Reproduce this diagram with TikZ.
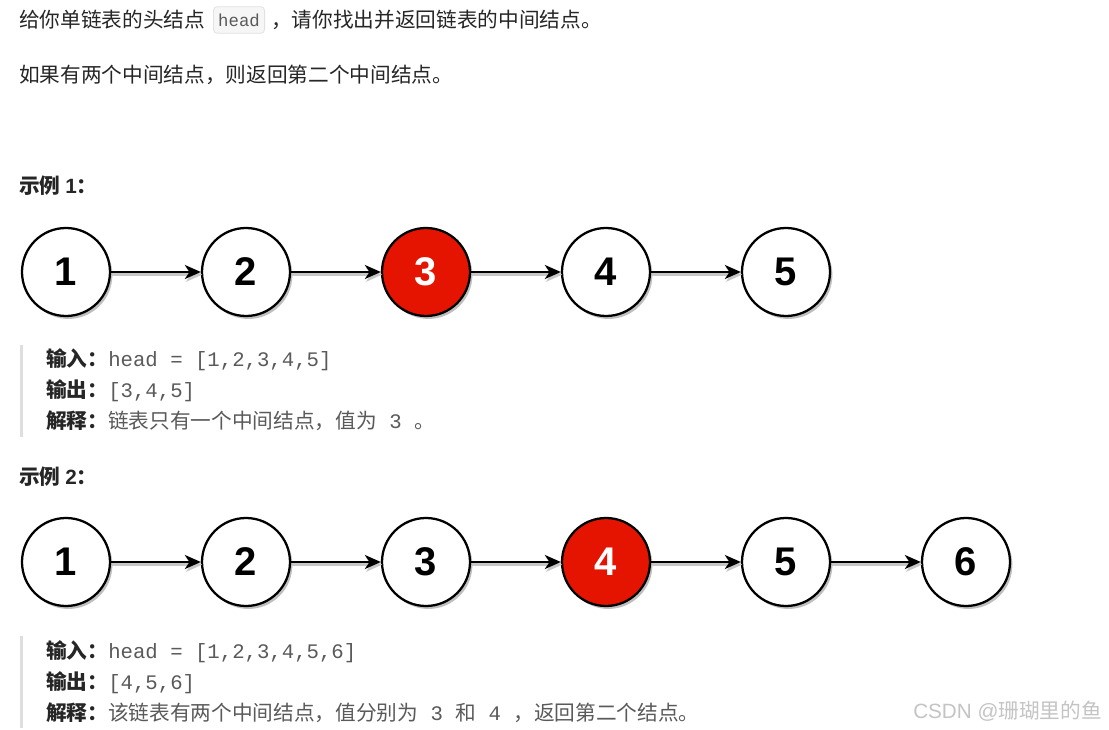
\documentclass[tikz,border=0pt]{standalone}
\usepackage{fontspec}
\setmainfont{Noto Sans CJK SC}
\newfontfamily\codefont{Liberation Mono}
\newfontfamily\numfont{Liberation Sans}
\usetikzlibrary{arrows.meta,shadows}

\definecolor{txtdark}{HTML}{262626}
\definecolor{txtgray}{HTML}{5A5A5A}
\definecolor{nodered}{HTML}{E51400}
\definecolor{quotebar}{HTML}{DEDEDE}
\definecolor{codebg}{HTML}{F6F6F6}
\definecolor{codeline}{HTML}{E2E2E2}
\definecolor{wmgray}{HTML}{C4C4C4}

\tikzset{
  bodytext/.style={anchor=west, inner sep=0pt, text=txtdark,
    font=\fontsize{15.5}{18}\selectfont},
  codebox/.style={anchor=west, rounded corners=3pt, fill=codebg, draw=codeline,
    line width=0.6pt, inner xsep=3.6pt, minimum height=20pt, text=txtgray,
    font=\codefont\fontsize{13}{15}\selectfont},
  listnode/.style={circle, draw=black, line width=1.7pt, fill=white,
    minimum size=66pt, inner sep=0pt,
    font=\numfont\bfseries\fontsize{30}{32}\selectfont,
    drop shadow={shadow xshift=1.8pt, shadow yshift=-2.2pt, opacity=0.25, fill=black}},
  midnode/.style={listnode, fill=nodered, text=white},
  nextptr/.style={-{Stealth[length=12pt, width=10.5pt, inset=3.5pt]}, line width=1.6pt,
    preaction={draw=black!22, line width=2.2pt, transform canvas={shift={(1pt,-2pt)}}}},
}

% 代码字体（灰色等宽）
\newcommand{\codetxt}[1]{{\codefont\color{txtgray}#1}}

\begin{document}
\begin{tikzpicture}[x=0.75pt, y=-0.75pt]
  % 1 px = 0.75 pt，y 轴向下，与截图像素一致
  \def\gap{180}
  \def\xa{66}
  \def\rowA{272}
  \def\rowB{562}
  \def\tx{46}
  \def\lh{30.5}

  \useasboundingbox[fill=white] (0,0) rectangle (1109,730);

  % ---- 题目 ----
  \node[bodytext] (introA) at (19,20) {给你单链表的头结点};
  \node[codebox] (headcode) at (213,20) {head};
  \node[bodytext] (introB) at (271,20) {，请你找出并返回链表的中间结点。};
  \node[bodytext] (introC) at (19,75) {如果有两个中间结点，则返回第二个中间结点。};

  % ---- 示例 1：五个结点，中间是 3 ----
  \node[bodytext, font=\fontsize{15.5}{18}\selectfont\bfseries] (exA) at (19,186) {示例 {\numfont\bfseries 1}：};
  \node[listnode] (a1) at (\xa,\rowA) {1};
  \node[listnode] (a2) at ({\xa+\gap},\rowA) {2};
  \node[midnode]  (a3) at ({\xa+2*\gap},\rowA) {3};
  \node[listnode] (a4) at ({\xa+3*\gap},\rowA) {4};
  \node[listnode] (a5) at ({\xa+4*\gap},\rowA) {5};
  \draw[nextptr] (a1) -- (a2);
  \draw[nextptr] (a2) -- (a3);
  \draw[nextptr] (a3) -- (a4);
  \draw[nextptr] (a4) -- (a5);

  \fill[quotebar] (19.5,345) rectangle (22.5,437);
  \node[bodytext] (inA) at (\tx,360) {\textbf{输入：}\codetxt{head = [1,2,3,4,5]}};
  \node[bodytext] (outA) at (\tx,{360+\lh}) {\textbf{输出：}\codetxt{[3,4,5]}};
  \node[bodytext] (whyA) at (\tx,{360+2*\lh}) {\textbf{解释：}{\color{txtgray}链表只有一个中间结点，值为\codetxt{\ 3\ }。}};

  % ---- 示例 2：六个结点，返回第二个中间结点 4 ----
  \node[bodytext, font=\fontsize{15.5}{18}\selectfont\bfseries] (exB) at (19,477) {示例 {\numfont\bfseries 2}：};
  \node[listnode] (b1) at (\xa,\rowB) {1};
  \node[listnode] (b2) at ({\xa+\gap},\rowB) {2};
  \node[listnode] (b3) at ({\xa+2*\gap},\rowB) {3};
  \node[midnode]  (b4) at ({\xa+3*\gap},\rowB) {4};
  \node[listnode] (b5) at ({\xa+4*\gap},\rowB) {5};
  \node[listnode] (b6) at ({\xa+5*\gap},\rowB) {6};
  \draw[nextptr] (b1) -- (b2);
  \draw[nextptr] (b2) -- (b3);
  \draw[nextptr] (b3) -- (b4);
  \draw[nextptr] (b4) -- (b5);
  \draw[nextptr] (b5) -- (b6);

  \fill[quotebar] (19.5,636) rectangle (22.5,728);
  \node[bodytext] (inB) at (\tx,652) {\textbf{输入：}\codetxt{head = [1,2,3,4,5,6]}};
  \node[bodytext] (outB) at (\tx,{652+\lh}) {\textbf{输出：}\codetxt{[4,5,6]}};
  \node[bodytext] (whyB) at (\tx,{652+2*\lh}) {\textbf{解释：}{\color{txtgray}该链表有两个中间结点，值分别为\codetxt{\ 3\ }和\codetxt{\ 4\ }，返回第二个结点。}};

  % 水印
  \node[bodytext, text=wmgray] (mark) at (913,711) {{\numfont CSDN @}珊瑚里的鱼};
\end{tikzpicture}
\end{document}
